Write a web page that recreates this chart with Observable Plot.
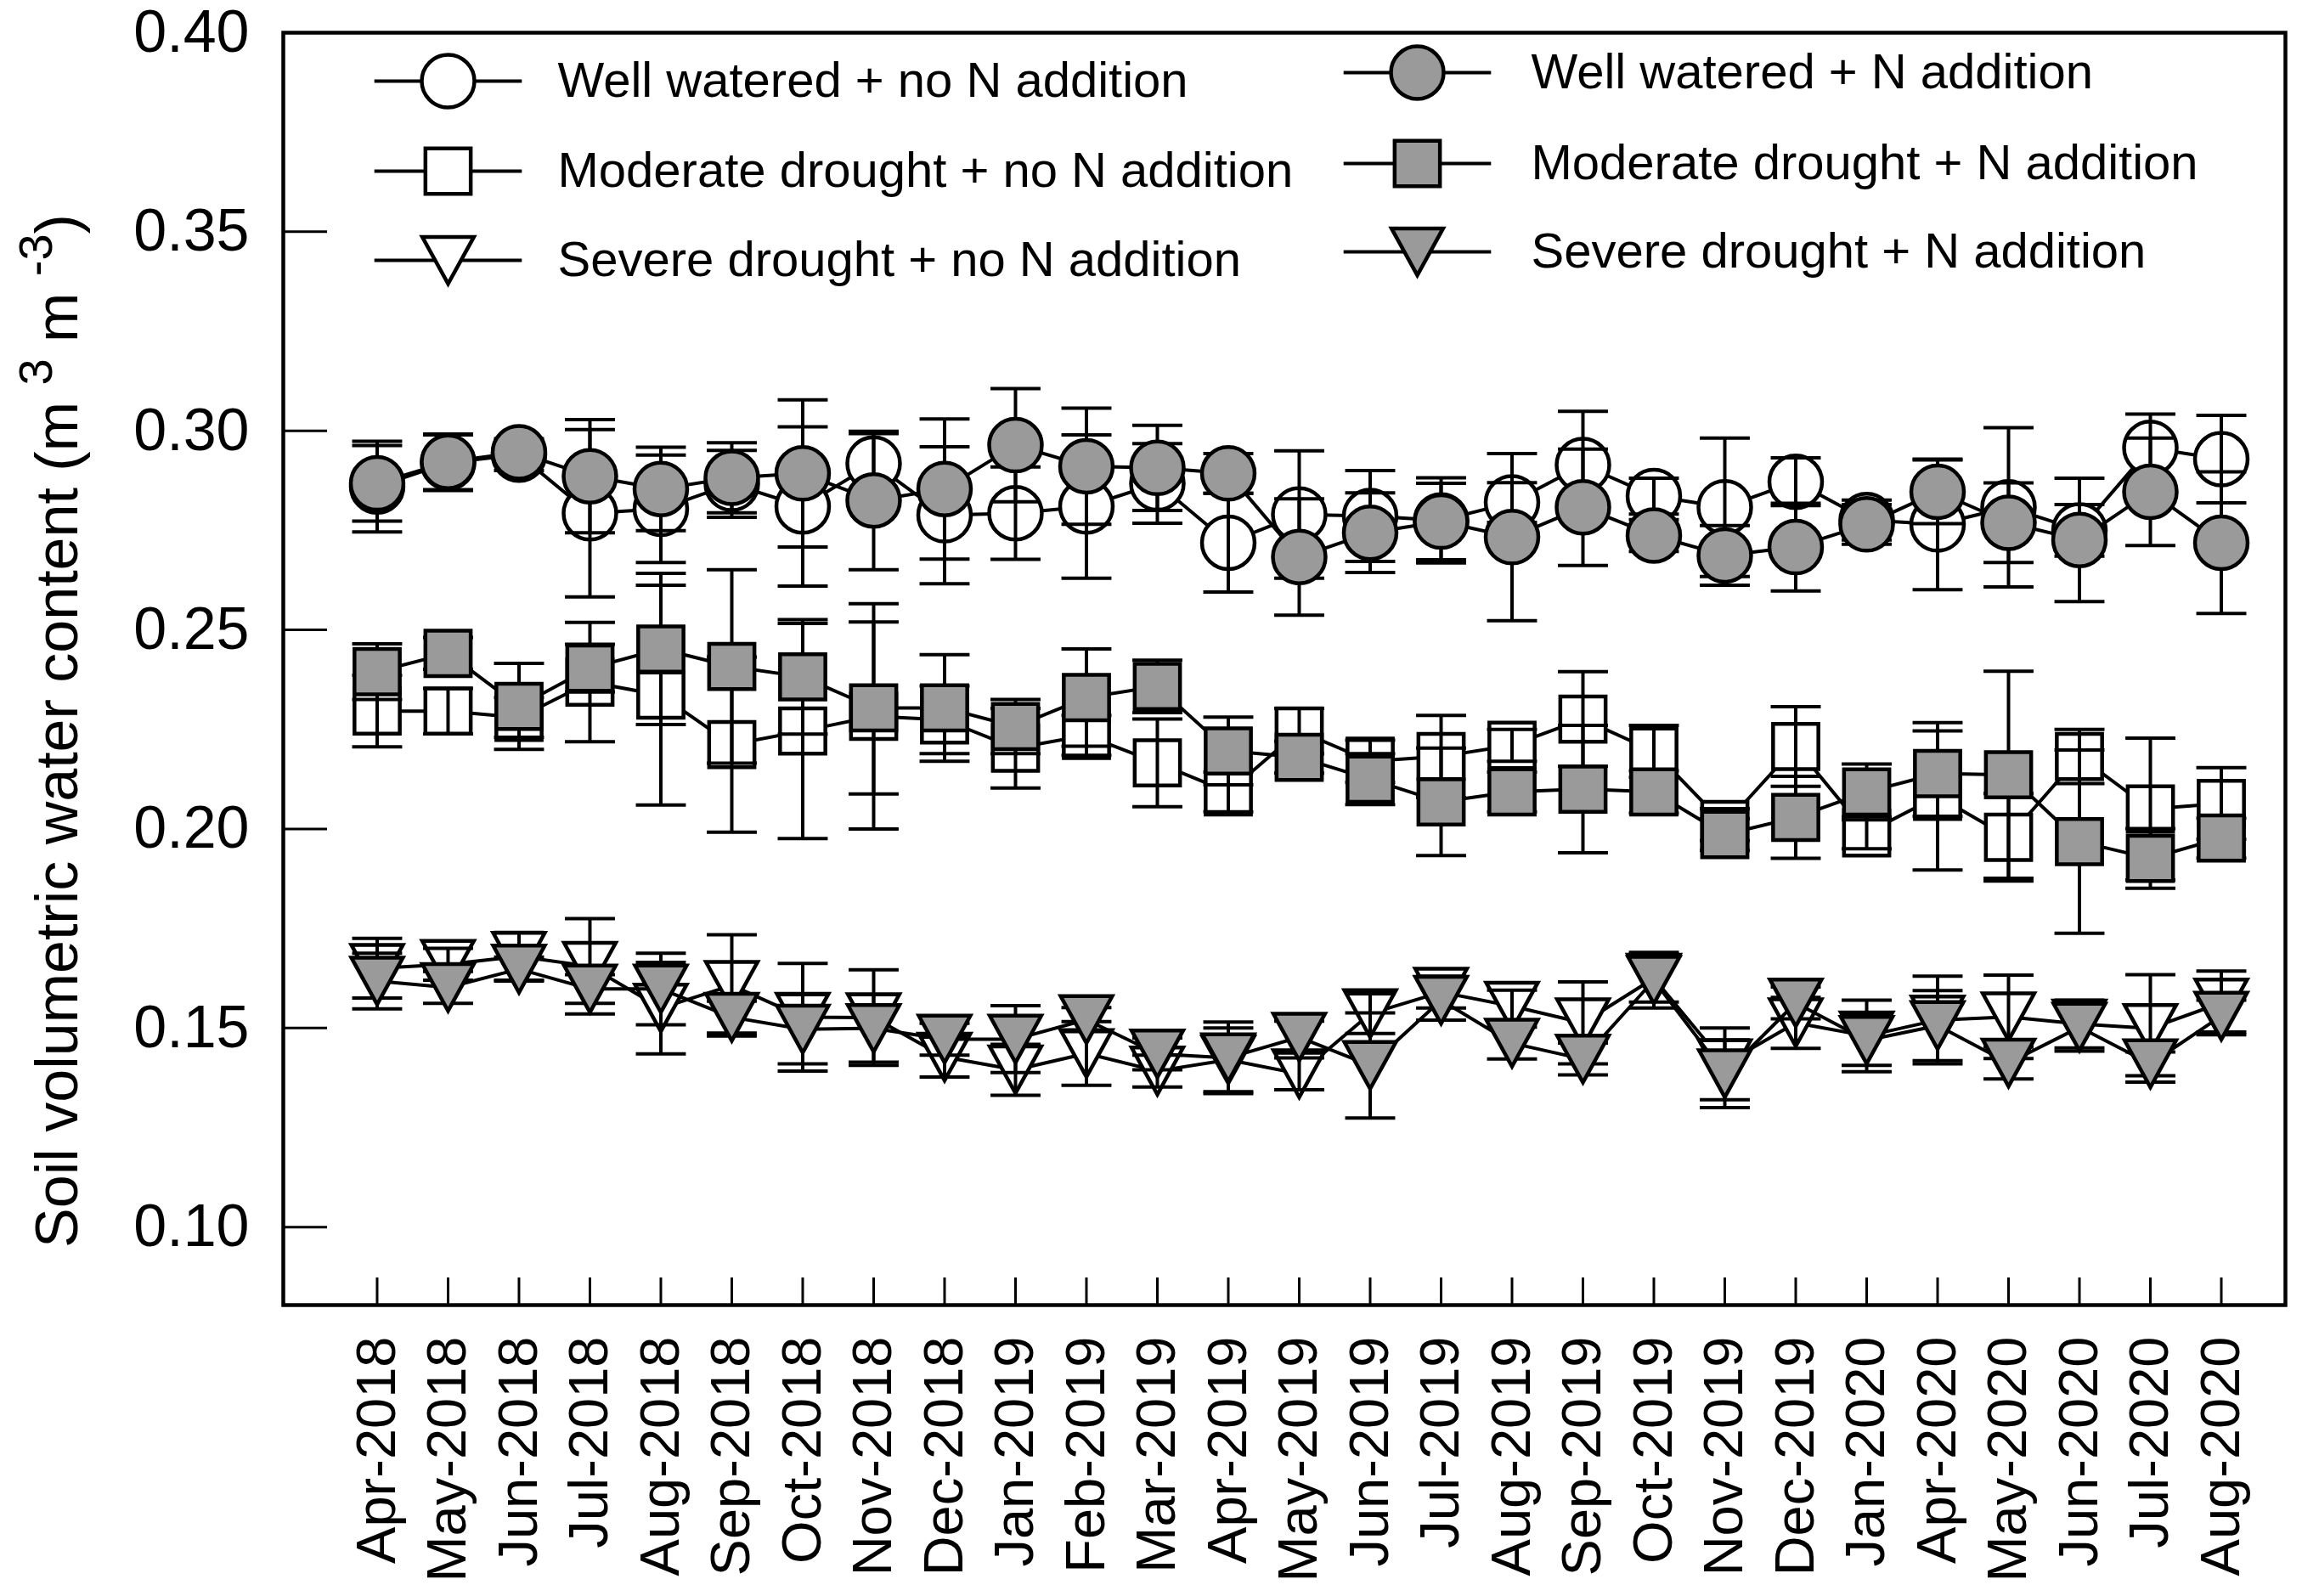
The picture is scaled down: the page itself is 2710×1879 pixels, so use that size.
<!DOCTYPE html>
<html>
<head>
<meta charset="utf-8">
<script src="https://cdn.jsdelivr.net/npm/d3@7"></script>
<script src="https://cdn.jsdelivr.net/npm/@observablehq/plot@0.6"></script>
<style>
  html, body { margin: 0; padding: 0; background: #fff; }
  #chart svg { display: block; overflow: visible; }
</style>
</head>
<body>
<div id="chart"></div>
<script>
// ---------------- data ----------------
const months = ["Apr-2018","May-2018","Jun-2018","Jul-2018","Aug-2018","Sep-2018","Oct-2018","Nov-2018","Dec-2018",
  "Jan-2019","Feb-2019","Mar-2019","Apr-2019","May-2019","Jun-2019","Jul-2019","Aug-2019","Sep-2019","Oct-2019",
  "Nov-2019","Dec-2019","Jan-2020","Apr-2020","May-2020","Jun-2020","Jul-2020","Aug-2020"];

const yTicks = [0.10, 0.15, 0.20, 0.25, 0.30, 0.35, 0.40];

// Well watered + no N addition
const wwNoN    = [0.286,0.292,0.294,0.2793,0.2804,0.2867,0.281,0.2918,0.2788,0.2793,0.281,0.2868,0.2719,0.279,0.2786,0.2775,0.282,0.2914,0.2836,0.2808,0.2872,0.2776,0.2765,0.2808,0.275,0.2957,0.2929];
const wwNoNErr = [0.0114,0.007,0.004,0.021,0.0135,0.0084,0.020,0.0075,0.0172,0.0116,0.018,0.010,0.0124,0.016,0.0114,0.0107,0.005,0.0135,0.0045,0.0174,0.006,0.005,0.0164,0.020,0.0065,0.0085,0.011];
// Well watered + N addition
const wwN      = [0.2868,0.2922,0.2946,0.2886,0.2854,0.2882,0.2893,0.2825,0.2854,0.2964,0.2911,0.2907,0.2893,0.2683,0.2744,0.2772,0.2733,0.2808,0.2737,0.2687,0.2708,0.2765,0.2847,0.2769,0.2726,0.2847,0.2719];
const wwNErr   = [0.0095,0.007,0.003,0.0142,0.0105,0.0088,0.0185,0.0174,0.0176,0.0142,0.0146,0.0107,0.005,0.0146,0.010,0.0096,0.021,0.0146,0.004,0.0075,0.011,0.005,0.008,0.010,0.0155,0.0135,0.0178];
// Moderate drought + no N addition
const mdNoN    = [0.2296,0.2296,0.228,0.2369,0.2336,0.2212,0.2246,0.2283,0.2274,0.2203,0.2235,0.2166,0.2093,0.2246,0.217,0.2182,0.221,0.2276,0.2195,0.2011,0.2207,0.199,0.2082,0.1979,0.2182,0.205,0.2064];
const mdNoNErr = [0.009,0.0057,0.005,0.015,0.0276,0.022,0.027,0.0283,0.0085,0.010,0.005,0.011,0.005,0.0057,0.0053,0.0103,0.004,0.0119,0.0065,0.004,0.010,0.004,0.0185,0.011,0.0068,0.0178,0.009];
// Moderate drought + N addition
const mdN      = [0.2395,0.2441,0.2308,0.2404,0.2452,0.2408,0.2382,0.2304,0.2304,0.2257,0.233,0.2358,0.2196,0.218,0.2125,0.2068,0.2093,0.21,0.2093,0.1986,0.2029,0.2093,0.2139,0.2136,0.1968,0.1926,0.1977];
const mdNErr   = [0.007,0.004,0.0108,0.006,0.019,0.0243,0.0144,0.0216,0.0134,0.0068,0.0122,0.0066,0.0085,0.004,0.0064,0.0135,0.005,0.016,0.0053,0.004,0.0103,0.007,0.0107,0.026,0.023,0.0075,0.005];
// Severe drought + no N addition
const sdNoN    = [0.165,0.166,0.168,0.1655,0.155,0.1607,0.1527,0.1526,0.1427,0.1395,0.1436,0.1392,0.142,0.1385,0.1536,0.159,0.1555,0.1513,0.1625,0.141,0.1513,0.148,0.152,0.1528,0.151,0.1499,0.1563];
const sdNoNErr = [0.0075,0.004,0.006,0.012,0.0115,0.0127,0.0135,0.012,0.005,0.0064,0.008,0.004,0.008,0.004,0.005,0.004,0.004,0.0103,0.006,0.009,0.0064,0.009,0.011,0.0105,0.006,0.0135,0.008];
// Severe drought + N addition
const sdN      = [0.1618,0.1602,0.1648,0.1598,0.1598,0.1527,0.1497,0.1499,0.1472,0.1472,0.1521,0.1435,0.1425,0.1477,0.1406,0.157,0.1462,0.1422,0.162,0.1385,0.1563,0.1469,0.1506,0.1412,0.1502,0.141,0.153];
const sdNErr   = [0.007,0.004,0.003,0.0036,0.009,0.004,0.0087,0.0085,0.004,0.0084,0.003,0.004,0.009,0.004,0.0132,0.005,0.004,0.004,0.007,0.0085,0.004,0.0063,0.0088,0.004,0.006,0.003,0.004];

const seriesLabels = [
  "Well watered + no N addition", "Well watered + N addition",
  "Moderate drought + no N addition", "Moderate drought + N addition",
  "Severe drought + no N addition", "Severe drought + N addition"
];
const yTitle = "Soil volumetric water content (m3 m-3)";

// ---------------- layout / style ----------------
const W = 2710, H = 1879;
const mL = 333, mR = 20, mT = 38, mB = 343;
const plotW = W - mL - mR, plotH = H - mT - mB;
const GRAY = "#9a9a9a";
const R = 31;

const symSquare = {draw(ctx, size) { const r = Math.sqrt(size / Math.PI), s = r * 0.86;
  ctx.moveTo(-s, -s); ctx.lineTo(s, -s); ctx.lineTo(s, s); ctx.lineTo(-s, s); ctx.closePath(); }};
const symTriDown = {draw(ctx, size) { const r = Math.sqrt(size / Math.PI), w = r * 0.98, h = r * 0.89;
  ctx.moveTo(-w, -h); ctx.lineTo(w, -h); ctx.lineTo(0, h); ctx.closePath(); }};
const symCap = {draw(ctx, size) { const r = Math.sqrt(size / Math.PI), w = r * 0.95;
  ctx.moveTo(-w, 0); ctx.lineTo(w, 0); }};
const symLegLine = {draw(ctx, size) { const r = Math.sqrt(size / Math.PI), w = r * 2.8;
  ctx.moveTo(-w, 0); ctx.lineTo(w, 0); }};

const series = [
  {label: seriesLabels[0], mean: wwNoN, err: wwNoNErr, symbol: "circle", fill: "white"},
  {label: seriesLabels[1], mean: wwN,   err: wwNErr,   symbol: "circle", fill: GRAY},
  {label: seriesLabels[2], mean: mdNoN, err: mdNoNErr, symbol: symSquare, fill: "white"},
  {label: seriesLabels[3], mean: mdN,   err: mdNErr,   symbol: symSquare, fill: GRAY},
  {label: seriesLabels[4], mean: sdNoN, err: sdNoNErr, symbol: symTriDown, fill: "white"},
  {label: seriesLabels[5], mean: sdN,   err: sdNErr,   symbol: symTriDown, fill: GRAY}
];
series.forEach(s => { s.rows = s.mean.map((v, i) => ({i, v, e: s.err[i]})); });

const LW = 4;
function errMarks(rows) {
  return [
    Plot.ruleX(rows, {x: "i", y1: d => d.v - d.e, y2: d => d.v + d.e, stroke: "black", strokeWidth: LW}),
    Plot.dot(rows, {x: "i", y: d => d.v + d.e, symbol: symCap, r: R, fill: "none", stroke: "black", strokeWidth: LW}),
    Plot.dot(rows, {x: "i", y: d => d.v - d.e, symbol: symCap, r: R, fill: "none", stroke: "black", strokeWidth: LW})
  ];
}
function lineMark(s) { return Plot.line(s.rows, {x: "i", y: "v", stroke: "black", strokeWidth: LW}); }
function symMark(s) { return Plot.dot(s.rows, {x: "i", y: "v", symbol: s.symbol, r: R, fill: s.fill, stroke: "black", strokeWidth: 4.5}); }

const dataMarks = [];
for (let g = 0; g < 3; g++) {
  const white = series[2 * g], gray = series[2 * g + 1];
  dataMarks.push(lineMark(white), symMark(white), ...errMarks(white.rows));
  dataMarks.push(lineMark(gray), ...errMarks(gray.rows), symMark(gray));
}

// legend (positions relative to the frame's top-left corner)
const legendPos = [
  {s: 0, sx: 194, tx: 323, y: 57},
  {s: 2, sx: 194, tx: 323, y: 163},
  {s: 4, sx: 194, tx: 323, y: 268},
  {s: 1, sx: 1335, tx: 1469, y: 47},
  {s: 3, sx: 1335, tx: 1469, y: 154},
  {s: 5, sx: 1335, tx: 1469, y: 258}
];
const legendMarks = legendPos.flatMap(p => {
  const s = series[p.s];
  return [
    Plot.dot([s], {x: null, y: null, frameAnchor: "top-left", dx: p.sx, dy: p.y, symbol: symLegLine, r: R, fill: "none", stroke: "black", strokeWidth: LW}),
    Plot.dot([s], {x: null, y: null, frameAnchor: "top-left", dx: p.sx, dy: p.y, symbol: s.symbol, r: R, fill: s.fill, stroke: "black", strokeWidth: 4.5}),
    Plot.text([s], {x: null, y: null, frameAnchor: "top-left", dx: p.tx, dy: p.y, text: "label", textAnchor: "start", lineAnchor: "middle", fontSize: 58, fill: "black"})
  ];
});

const xIdx = d3.range(months.length);

const chart = Plot.plot({
  width: W, height: H,
  marginLeft: mL, marginRight: mR, marginTop: mT, marginBottom: mB,
  style: {fontFamily: "'Liberation Sans', Arial, sans-serif", background: "white", color: "black", overflow: "visible"},
  x: {type: "linear", domain: [-1.323, 26.904]},
  y: {type: "linear", domain: [0.0804, 0.40]},
  marks: [
    Plot.tickY(yTicks, {y: d => d, insetRight: plotW - 52, stroke: "black", strokeWidth: 3}),
    Plot.tickX(xIdx, {x: d => d, insetTop: plotH - 32, stroke: "black", strokeWidth: 3}),
    Plot.axisY({ticks: yTicks, tickFormat: d3.format(".2f"), tickSize: 0, tickPadding: 40, fontSize: 70, label: null}),
    Plot.axisX({ticks: xIdx, tickFormat: i => months[i], tickRotate: -90, tickSize: 0, tickPadding: 37, fontSize: 65, label: null}),
    ...dataMarks,
    ...legendMarks,
    Plot.text([yTitle], {x: null, y: null, text: d => d, frameAnchor: "left", rotate: -90, dx: 90 - mL, dy: 73,
      textAnchor: "middle", lineAnchor: "bottom", fontSize: 70, fill: "black"}),
    Plot.frame({stroke: "black", strokeWidth: 4.5})
  ]
});

// superscripts in the y-axis title
d3.select(chart).selectAll("text").each(function() {
  if (this.textContent === yTitle) {
    const t = d3.select(this);
    t.text(null);
    t.append("tspan").text("Soil volumetric water content (m ");
    t.append("tspan").attr("font-size", 56).attr("dy", -30).text("3");
    t.append("tspan").attr("dy", 30).text(" m ");
    t.append("tspan").attr("font-size", 56).attr("dy", -30).text("-3");
    t.append("tspan").attr("dy", 30).text(")");
  }
});

document.getElementById("chart").appendChild(chart);
</script>
</body>
</html>
